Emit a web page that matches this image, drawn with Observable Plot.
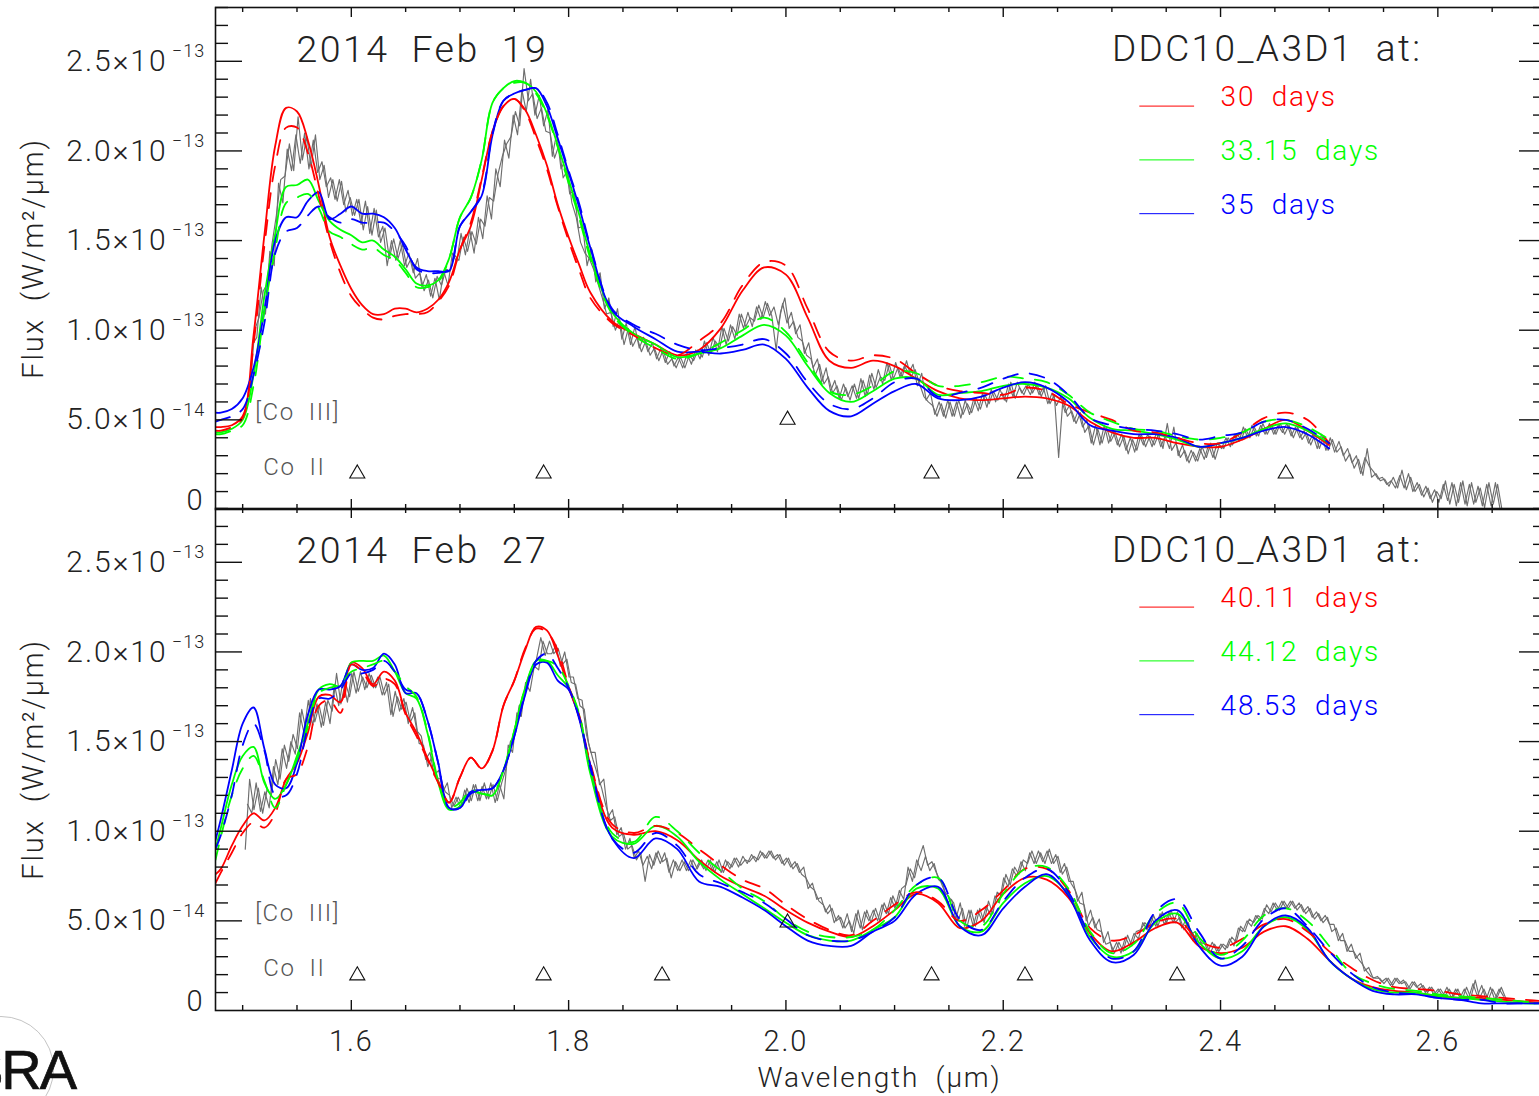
<!DOCTYPE html>
<html><head><meta charset="utf-8">
<script src="https://cdn.jsdelivr.net/npm/d3@7"></script>
<script src="https://cdn.jsdelivr.net/npm/@observablehq/plot@0.6"></script>
<style>
html,body{margin:0;padding:0;background:#fff;overflow:hidden;width:1539px;height:1096px}
#page{position:relative;width:1539px;height:1096px;overflow:hidden}
#page svg{position:absolute;left:0;overflow:visible;background:transparent;max-width:none!important}
#page svg text{letter-spacing:.065em;word-spacing:.28em}
#logo{position:absolute;left:-34px;top:1038px;font:400 56px/64px "Liberation Sans";letter-spacing:-2px;color:#111;-webkit-text-stroke:.7px #111}
#ring{position:absolute;left:-52px;top:1016px;width:104px;height:104px;border:1.5px solid #c4c4c4;border-radius:50%}
</style></head><body><div id="page"><div id="ring"></div><div id="logo">SRA</div></div>
<script>
// wavelengths of the model knots (micron)
const waveA=[1.475,1.48,1.49,1.50,1.51,1.52,1.53,1.54,1.55,1.56,1.57,1.58,1.59,1.60,1.61,1.62,1.63,1.64,1.65,1.66,1.67,1.68,1.69,1.70,1.71,1.72,1.73,1.74,1.75,1.76,1.77,1.78,1.79,1.80,1.81,1.82,1.84,1.86,1.88,1.90,1.92,1.94,1.96,1.98,2.00,2.02,2.04,2.06,2.08,2.10,2.12,2.14,2.16,2.18,2.20,2.22,2.24,2.26,2.28,2.30,2.32,2.34,2.36,2.38,2.40,2.42,2.44,2.46,2.48,2.50];
const waveB=[...waveA,2.52,2.54,2.56,2.58,2.60,2.62,2.64,2.66,2.68,2.70];
// all fluxes in 1e-14 W/m2/um
const feb19RedSolid=[4.6,4.6,4.7,5.2,9.7,15.3,20.3,22.4,22.2,20.6,18.1,15.2,13.6,12.3,11.4,10.9,10.9,11.2,11.2,11.0,11.2,11.7,12.7,14.5,15.8,18.4,21.1,22.5,22.9,22.3,20.9,19.2,17.0,15.2,13.6,12.1,10.5,9.8,9.2,8.6,8.9,10.1,12.2,13.5,13.1,10.7,8.3,7.9,8.3,8.0,7.3,6.6,6.2,6.1,6.2,6.3,6.2,5.8,4.9,4.3,4.0,4.0,3.7,3.5,3.5,3.9,4.5,5.0,4.4,3.6];
const feb19RedDash=[4.4,4.4,4.6,5.1,9.2,14.7,19.2,21.3,21.3,19.9,17.5,15.0,13.2,11.9,11.2,10.7,10.6,10.8,10.9,10.9,11.0,11.6,12.5,14.5,16.0,18.5,21.1,22.5,22.9,22.2,20.7,19.0,16.9,15.0,13.3,11.8,10.4,9.7,9.0,8.6,9.4,10.4,12.5,13.8,13.6,11.2,8.8,8.3,8.6,8.4,7.6,6.9,6.6,6.5,6.4,6.8,6.6,5.9,5.4,5.0,4.4,4.3,4.0,3.7,3.7,4.3,5.1,5.4,5.0,3.7];
const feb19GreenSolid=[4.3,4.3,4.5,5.0,7.5,11.9,15.4,18.0,18.1,18.4,17.2,16.1,15.6,15.3,14.9,15.0,14.5,14.1,13.4,12.6,12.5,12.8,14.0,16.3,17.4,19.5,22.7,23.5,23.9,23.8,23.3,22.1,20.3,18.4,16.4,14.2,11.0,9.8,9.2,8.5,8.7,9.0,9.7,10.3,9.7,8.0,6.5,6.0,6.6,7.3,7.3,6.4,6.5,6.6,6.9,7.0,6.8,6.2,5.1,4.5,4.4,4.2,3.9,3.5,3.7,4.0,4.5,4.8,4.4,3.7];
const feb19GreenDash=[4.2,4.2,4.4,4.7,6.9,11.1,14.5,17.1,17.4,17.6,16.8,15.5,15.2,14.8,14.5,14.6,14.2,13.9,13.2,12.4,12.4,12.7,14.0,16.3,17.4,19.5,22.7,23.5,23.8,23.8,23.2,22.0,20.2,18.2,16.2,14.0,10.9,9.7,9.0,8.4,8.7,9.3,10.0,10.7,9.9,8.2,6.6,6.4,6.9,7.7,7.6,6.9,6.9,7.1,7.4,7.3,7.1,6.4,5.4,4.9,4.5,4.4,4.1,3.9,4.0,4.3,4.9,5.0,4.6,3.9];
const feb19BlueSolid=[5.4,5.4,5.6,6.2,7.9,11.1,15.0,16.3,16.3,17.2,17.7,16.2,16.5,16.9,16.5,16.5,16.3,15.7,14.5,13.5,13.3,13.3,13.3,15.8,16.6,17.5,20.9,22.8,23.2,23.4,23.5,22.5,20.7,18.8,16.8,14.6,11.1,10.2,9.5,8.8,8.8,8.7,8.9,9.2,8.4,6.8,5.5,5.2,5.9,6.6,7.0,6.2,6.1,6.3,6.8,7.1,6.8,6.0,4.7,4.4,4.2,4.2,4.0,3.5,3.7,4.0,4.4,4.6,4.2,3.4];
const feb19BlueDash=[4.9,5.0,5.2,5.6,7.5,10.4,14.3,15.5,15.7,16.4,16.9,16.3,16.0,16.2,16.0,16.0,16.0,15.5,14.7,13.4,13.2,13.2,13.4,15.8,16.6,17.6,21.0,22.8,23.2,23.4,23.5,22.7,20.9,18.9,17.0,14.7,11.2,10.3,9.8,9.2,8.9,9.0,9.2,9.5,8.7,7.1,5.9,5.6,6.2,7.1,7.3,6.3,6.5,6.8,7.3,7.6,7.3,6.4,5.1,4.7,4.5,4.4,4.2,3.9,4.1,4.3,4.9,5.0,4.5,3.7];
const feb27RedSolid=[7.6,7.9,9.2,10.3,11.0,10.6,11.3,12.9,13.8,15.5,17.5,17.6,17.2,19.4,19.1,18.2,18.9,18.4,16.6,15.5,14.1,12.8,11.6,13.0,14.1,13.5,14.5,17.0,18.4,20.1,21.4,21.2,19.8,18.0,16.3,13.7,10.2,9.8,10.0,9.5,8.4,7.5,6.9,6.4,5.6,4.9,4.4,4.1,4.7,5.6,6.5,6.0,4.6,5.0,6.5,7.4,7.3,6.3,4.3,3.3,3.8,4.6,4.9,3.6,3.2,3.5,4.4,4.7,4.0,2.8,1.8,1.3,1.1,1.0,0.8,0.7,0.7,0.6,0.5,0.4];
const feb27RedDash=[7.1,7.7,8.8,9.9,10.5,10.2,11.0,12.9,13.2,14.7,17.0,17.3,16.6,19.3,18.9,18.1,18.5,18.2,16.5,15.3,14.0,12.7,11.6,13.0,14.1,13.5,14.5,17.0,18.4,20.2,21.3,21.1,20.1,18.1,16.4,13.8,10.4,9.9,10.3,9.9,9.0,8.1,7.3,6.8,5.9,5.1,4.5,4.2,5.0,5.9,6.6,6.1,5.0,5.6,6.7,7.9,7.9,6.7,4.6,3.9,4.2,4.9,5.1,3.9,3.5,4.0,4.8,5.1,4.4,3.3,2.4,1.7,1.3,1.2,1.1,0.9,0.8,0.7,0.6,0.5];
const feb27GreenSolid=[9.0,10.2,12.6,14.2,14.7,12.7,11.8,12.6,14.2,16.0,17.9,18.2,18.1,19.4,19.5,19.5,19.8,18.9,17.7,17.4,15.5,12.7,11.2,11.4,12.2,12.1,12.0,13.4,15.6,18.0,19.5,19.5,18.7,18.0,16.4,13.2,9.7,9.3,10.3,9.7,8.3,7.3,6.5,5.7,4.9,4.2,3.9,3.9,4.5,5.2,6.8,6.8,4.7,4.4,6.0,7.1,7.5,6.5,4.1,3.0,3.3,4.9,5.4,3.8,2.9,3.3,4.7,5.2,4.5,2.8,1.8,1.2,1.0,1.0,0.8,0.7,0.6,0.5,0.4,0.4];
const feb27GreenDash=[8.4,9.7,12.0,13.5,14.2,12.8,11.3,12.6,14.0,15.8,17.7,18.0,18.2,18.9,19.1,19.3,19.5,18.9,18.1,17.5,15.6,12.8,11.3,11.6,12.3,12.1,12.1,13.4,15.6,18.0,19.4,19.5,19.2,18.1,16.5,13.4,9.9,9.4,10.8,10.0,8.8,7.8,6.8,6.1,5.1,4.4,4.1,4.1,4.5,5.6,7.0,7.4,5.0,4.7,6.5,7.9,8.0,6.8,4.4,3.2,3.7,5.4,6.0,4.1,3.1,3.9,5.3,5.7,5.0,3.6,2.1,1.5,1.2,1.1,0.9,0.8,0.7,0.6,0.5,0.4];
const feb27BlueSolid=[9.5,10.7,13.4,16.0,16.9,14.6,12.6,12.4,13.8,16.5,17.9,17.9,18.1,19.3,19.0,19.1,19.9,19.3,17.7,17.7,16.2,13.8,11.3,11.3,12.2,12.3,12.4,13.4,15.3,17.6,19.3,19.4,18.4,17.9,16.2,13.5,9.6,8.5,9.6,9.0,7.2,6.9,6.3,5.6,4.7,3.9,3.6,3.6,4.4,5.0,6.5,6.9,4.7,4.2,5.7,6.9,7.6,6.4,3.9,2.7,3.1,5.0,5.6,3.6,2.5,3.0,4.7,5.3,4.6,2.8,1.8,1.1,0.9,0.9,0.7,0.6,0.4,0.4,0.4,0.4];
const feb27BlueDash=[9.0,9.8,12.0,14.8,16.0,14.5,12.0,12.0,13.2,15.8,17.4,17.4,17.9,18.8,18.8,19.0,19.5,18.9,17.9,17.7,16.2,13.8,11.3,11.3,12.1,12.3,12.4,13.4,15.3,17.7,19.5,19.9,19.1,18.0,16.3,13.7,9.6,8.8,9.9,9.2,7.6,7.1,6.6,6.0,5.1,4.2,3.9,3.9,4.4,5.2,7.0,7.4,5.1,4.5,6.1,7.4,7.9,6.6,4.2,2.9,3.3,5.5,6.2,4.4,2.9,3.6,5.1,5.7,4.7,3.3,2.1,1.3,1.0,0.9,0.7,0.6,0.6,0.4,0.4,0.4];
// observed spectra, read every 0.004 micron, plus readings halfway between them
const obsStart19=1.507, obsStart27=1.5024, obsStep=0.004;
const obsFeb19=[6.8,10.0,10.7,12.2,12.6,14.8,16.4,18.4,18.6,20.4,18.9,21.9,19.5,20.8,19.1,20.9,18.4,19.2,17.4,18.4,17.2,18.3,16.6,17.4,16.4,17.3,15.6,16.9,15.3,16.7,14.9,15.7,14.0,15.1,14.0,14.8,13.5,14.0,12.9,13.2,12.2,12.8,11.8,13.0,12.5,13.4,13.3,14.2,13.9,15.2,14.4,15.5,14.8,16.2,15.8,17.4,17.2,18.7,19.7,20.4,20.8,22.2,21.4,24.6,22.8,23.2,21.8,22.4,21.1,21.0,19.6,20.3,18.5,18.9,17.1,16.3,14.9,14.3,14.0,13.4,12.6,11.8,10.9,11.0,10.0,10.6,9.2,10.1,9.1,9.6,8.8,9.4,8.6,9.0,8.3,8.9,8.1,8.4,7.9,8.5,7.9,8.6,8.3,8.9,8.5,9.3,8.7,9.4,9.0,10.1,9.4,10.2,9.7,10.9,10.2,10.7,10.5,11.4,10.7,11.5,10.8,8.9,11.0,11.8,10.1,10.5,9.6,9.4,8.6,8.4,7.5,8.1,7.0,7.4,6.5,6.9,6.1,6.8,6.1,7.0,6.2,7.2,6.4,7.6,6.8,7.4,7.2,8.1,7.3,7.9,7.4,8.3,7.4,7.8,7.0,6.3,6.0,5.8,5.2,5.9,5.1,6.0,5.2,6.1,5.3,5.9,5.4,6.2,5.6,6.4,5.9,6.6,6.1,6.5,6.0,7.1,6.2,6.8,6.4,7.0,6.5,7.0,6.3,6.9,5.9,6.4,2.9,6.2,5.2,5.5,4.8,5.4,4.3,4.7,3.6,4.5,3.7,4.6,3.8,4.3,3.5,4.1,3.1,3.9,3.3,4.2,3.5,4.1,3.6,4.2,3.4,4.8,3.3,3.7,2.9,3.3,2.6,3.2,2.7,3.5,2.9,3.7,2.8,3.6,3.4,4.0,3.6,4.2,3.9,4.5,4.0,4.6,4.1,4.8,4.2,4.7,4.2,4.8,4.2,4.7,4.0,4.6,3.9,4.3,3.6,4.2,3.4,4.1,3.3,3.9,3.2,3.5,2.7,3.1,2.3,2.8,1.9,3.4,1.8,2.0,1.6,1.7,1.3,1.8,1.2,2.2,1.1,1.8,1.0,1.4,0.7,1.2,0.4,1.0,0.6,1.6,0.3,1.4,0.4,1.6,0.2,1.5,0.4,1.2,0.1,1.5,0.3,1.4,0.0];
const obsFeb19Mid=[9.2,9.6,12.4,10.9,14.4,13.6,18.2,17.1,20.1,18.9,20.9,19.3,21.0,19.0,20.6,18.8,19.4,18.0,18.5,17.3,18.4,17.0,17.8,16.4,17.3,15.9,17.2,15.4,16.8,15.2,15.8,13.6,15.0,13.9,15.0,13.6,14.3,13.2,14.0,12.4,13.1,11.9,12.9,11.7,13.3,12.5,14.3,13.8,15.4,14.2,15.6,14.3,16.3,15.1,17.5,16.2,19.0,18.0,20.6,19.6,22.0,20.9,23.4,22.2,24.0,22.0,23.1,21.4,22.3,19.7,21.0,19.0,19.5,17.6,17.8,15.7,15.8,13.6,14.6,12.7,13.2,11.2,11.8,10.2,11.2,9.5,10.4,9.2,10.2,9.0,9.6,8.8,9.3,8.4,9.0,8.2,8.8,8.0,8.5,7.9,8.7,8.1,8.9,8.4,9.4,8.6,9.6,8.8,10.2,9.2,10.3,9.5,10.9,10.1,11.0,10.2,11.3,10.6,11.6,10.8,11.3,10.3,11.5,10.4,11.0,9.8,10.3,8.7,9.3,7.9,8.4,7.1,7.9,6.6,7.2,6.2,7.0,6.3,6.9,6.2,7.3,6.3,7.5,6.7,7.8,7.0,8.2,7.2,8.2,7.4,8.0,7.6,8.1,6.9,7.6,6.1,6.5,5.3,6.0,5.2,6.1,5.2,6.0,5.1,6.1,5.3,6.2,5.5,6.5,5.7,6.7,6.0,6.7,6.1,7.0,6.3,7.1,6.5,6.9,6.4,7.1,6.4,6.8,5.9,6.5,5.8,6.3,5.4,5.8,4.9,5.5,4.6,5.0,3.7,4.7,3.6,4.7,3.7,4.4,3.6,4.2,3.3,4.0,3.2,4.2,3.6,4.2,3.5,4.3,3.5,4.1,3.4,4.6,3.0,3.6,2.7,3.3,2.7,3.4,2.8,3.6,2.9,3.7,3.4,4.0,3.5,4.2,3.8,4.6,4.0,4.7,4.1,4.7,4.2,4.8,4.2,4.7,4.3,4.8,4.1,4.6,4.0,4.4,3.7,4.2,3.4,4.2,3.3,4.0,3.2,3.8,3.0,3.4,2.6,3.0,2.0,2.9,2.4,2.1,1.7,1.8,1.4,1.6,1.2,1.9,1.2,2.0,1.0,1.5,0.8,1.3,0.6,1.1,0.4,1.4,0.5,1.5,0.2,1.5,0.3,1.4,0.3,1.3,0.2,1.4,0.2,1.5,0.1];
const obsFeb27=[9.0,12.9,11.2,12.4,11.0,12.3,12.0,14.0,12.9,14.8,13.9,15.4,14.6,16.8,15.6,17.4,16.1,17.0,15.9,17.3,16.7,18.8,17.1,18.3,17.5,18.9,17.8,18.6,18.0,18.7,18.0,18.6,17.6,18.2,16.4,17.5,16.8,17.2,16.1,16.6,14.9,14.8,13.6,14.2,13.0,12.9,12.2,12.0,11.4,11.9,11.4,12.4,11.7,12.6,11.7,12.7,11.8,12.6,11.7,12.7,13.5,15.0,15.4,17.0,17.2,18.4,18.9,19.6,20.8,19.8,20.6,19.9,20.2,19.3,19.6,18.3,18.2,17.0,16.8,14.9,14.0,13.2,12.4,11.4,10.6,10.8,9.7,9.9,9.0,9.2,8.4,8.8,7.2,8.7,8.1,8.9,8.3,8.5,7.4,8.3,7.8,8.3,7.8,8.4,7.9,8.4,7.8,8.4,7.7,8.4,7.7,8.3,8.0,8.5,8.1,8.4,8.3,8.6,8.4,8.8,8.5,8.9,8.4,8.7,8.1,8.5,7.9,8.2,7.6,7.4,6.9,6.7,6.1,5.9,5.4,5.7,5.0,5.2,4.6,5.0,4.3,5.6,4.5,5.6,4.9,5.7,5.0,6.0,5.4,6.4,5.8,6.8,7.0,7.9,7.4,8.5,9.2,8.1,8.3,7.7,7.2,6.6,6.3,6.0,5.0,5.7,4.6,5.6,4.7,5.7,4.9,6.1,5.4,6.6,6.4,7.6,7.0,8.0,7.6,8.4,8.2,8.9,8.2,8.8,8.2,9.0,8.2,8.6,7.6,8.0,7.1,6.7,6.0,5.9,4.7,5.2,4.5,4.4,3.7,3.8,3.2,3.8,3.3,4.2,3.6,4.4,4.5,4.9,4.6,5.3,4.7,5.5,4.9,5.6,4.9,5.2,4.5,4.9,3.9,4.3,3.7,3.8,3.2,3.7,3.3,3.7,3.5,4.1,3.8,4.7,4.4,5.1,4.9,5.3,5.1,5.9,5.5,6.0,5.6,6.1,5.7,6.1,5.6,5.9,5.4,5.7,5.1,5.4,4.9,5.2,4.4,4.6,3.9,3.9,3.3,3.3,2.9,2.6,2.2,1.9,1.8,1.8,1.5,1.8,1.4,1.8,1.5,1.6,1.2,1.6,1.2,1.4,1.0,1.3,0.9,1.2,0.8,1.2,0.8,1.2,0.6,1.3,0.7,1.7,0.7,1.2,0.6,1.2,0.7,1.3,0.7];
const obsFeb27Mid=[11.5,11.0,12.7,11.1,12.2,11.3,13.6,12.6,14.6,13.5,15.0,14.3,16.6,15.5,17.3,15.9,17.1,15.8,17.2,16.0,18.2,17.0,18.4,17.2,18.8,17.7,18.9,17.9,18.8,18.0,18.6,17.6,18.3,16.5,17.8,16.7,17.4,16.0,16.9,15.6,15.3,14.0,14.4,13.1,13.4,12.2,12.7,11.3,11.9,11.3,12.3,11.6,12.6,11.7,12.5,11.8,12.7,11.6,12.6,11.8,14.8,14.4,16.6,16.4,18.3,17.8,19.2,19.0,20.6,19.9,19.9,20.4,19.2,20.0,18.6,18.6,17.4,17.3,15.4,14.4,14.4,12.6,12.9,10.8,11.2,9.8,10.2,9.0,9.6,8.5,8.9,8.1,8.6,7.9,8.8,8.2,8.8,7.7,8.4,7.8,8.4,7.8,8.4,7.8,8.3,7.9,8.4,7.8,8.3,7.7,8.4,7.9,8.5,8.0,8.6,8.2,8.7,8.3,8.9,8.5,8.9,8.5,8.7,8.2,8.5,8.0,8.3,7.7,8.0,6.8,7.1,6.2,6.3,5.5,5.9,4.9,5.3,4.6,5.4,4.4,5.4,4.6,5.5,5.0,5.6,5.0,5.9,5.4,6.3,5.7,6.7,6.2,8.0,7.2,8.4,7.8,8.6,7.8,8.2,7.3,7.1,6.0,6.2,5.1,6.0,4.7,5.6,4.7,5.6,5.0,5.8,5.3,6.4,6.0,7.4,6.9,7.9,7.5,8.3,7.8,8.8,8.2,8.9,8.3,8.9,8.2,8.7,7.7,8.2,7.2,7.2,6.1,6.6,5.0,5.6,4.6,5.1,3.8,4.4,3.3,3.8,3.2,4.1,3.6,4.3,4.0,4.9,4.5,5.2,4.7,5.4,4.8,5.5,4.9,5.5,4.6,5.1,4.2,4.4,3.7,3.9,3.3,3.8,3.3,3.7,3.4,4.0,3.6,4.6,4.4,5.0,4.7,5.3,5.0,5.7,5.4,6.0,5.6,6.1,5.7,6.1,5.7,6.0,5.5,5.8,5.2,5.5,5.0,5.3,4.8,4.8,3.9,4.3,3.3,3.7,2.9,3.2,2.2,2.4,1.8,1.9,1.6,1.8,1.4,1.8,1.5,1.7,1.2,1.6,1.3,1.5,1.0,1.3,0.9,1.2,0.8,1.3,0.7,1.2,0.7,1.2,0.7,1.5,0.8,1.4,0.6,1.3,0.6,1.2,0.8];
// line identification markers
const coIII19=[[2.0015,5.0]], coIII27=[[2.0015,4.9]];
const coII19=[1.6055,1.777,2.134,2.22,2.46], coII27=[1.6055,1.777,1.886,2.134,2.22,2.36,2.46];
// axes
const xMajor=[1.6,1.8,2.0,2.2,2.4,2.6];
const xMinor=[1.5,1.55,1.65,1.7,1.75,1.85,1.9,1.95,2.05,2.1,2.15,2.25,2.3,2.35,2.45,2.5,2.55,2.65,2.7];
const yMajor=[5,10,15,20,25];
const yMinor=[1,2,3,4,6,7,8,9,11,12,13,14,16,17,18,19,21,22,23,24,26,27,28];
const yLabels={5:"5.0×10",10:"1.0×10",15:"1.5×10",20:"2.0×10",25:"2.5×10"};
const yExp={5:"−14",10:"−13",15:"−13",20:"−13",25:"−13"};
const RED="#ff0000",GREEN="#00ff00",BLUE="#0000ff",INK="#222";
const W=1546, PLOTH=502;

function series(xs,ys){return ys.map((y,i)=>({x:xs[i],y}));}
function obsSeries(start,ys){return ys.map((y,i)=>({x:start+i*obsStep,y}));}

function panel(o){
  const line=(ys,c,dash)=>Plot.line(series(o.wave,ys),{x:"x",y:"y",stroke:c,strokeWidth:1.8,curve:"catmull-rom",clip:"frame",strokeDasharray:dash?"15,12":undefined});
  const tx=(str,x,y,size,fill)=>Plot.text([str],{x:()=>x,y:()=>y,text:d=>d,textAnchor:"start",fontSize:size,fill});
  const ln=(y,c)=>Plot.line([{x:2.3256,y},{x:2.3753,y}],{x:"x",y:"y",stroke:c,strokeWidth:1});
  const ins=PLOTH;
  const marks=[
    Plot.line(obsSeries(o.obsStart,o.obs),{x:"x",y:"y",stroke:"#6e6e6e",strokeWidth:1.15,clip:"frame"}),
    Plot.line(obsSeries(o.obsStart+obsStep/2,o.obsMid),{x:"x",y:"y",stroke:"#6e6e6e",strokeWidth:1.15,clip:"frame"}),
    line(o.r,RED),line(o.g,GREEN),line(o.b,BLUE),
    line(o.rd,RED,1),line(o.gd,GREEN,1),line(o.bd,BLUE,1),
    Plot.dot(o.coIII,{x:d=>d[0],y:d=>d[1],symbol:"triangle",r:5.6,stroke:"#111",fill:"none",strokeWidth:1.1}),
    Plot.dot(o.coII,{x:d=>d,y:()=>o.coIIy,symbol:"triangle",r:5.6,stroke:"#111",fill:"none",strokeWidth:1.1}),
    Plot.frame({stroke:"#111",strokeWidth:1.6}),
    Plot.tickX(xMajor,{x:d=>d,insetTop:ins-10,stroke:"#111",strokeWidth:1.4}),
    Plot.tickX(xMajor,{x:d=>d,insetBottom:ins-10,stroke:"#111",strokeWidth:1.4}),
    Plot.tickX(xMinor,{x:d=>d,insetTop:ins-5,stroke:"#111",strokeWidth:1.4}),
    Plot.tickX(xMinor,{x:d=>d,insetBottom:ins-5,stroke:"#111",strokeWidth:1.4}),
    Plot.tickY(yMajor,{y:d=>d,insetRight:W-215-27,stroke:"#111",strokeWidth:1.4}),
    Plot.tickY(yMajor,{y:d=>d,insetLeft:W-215-27,stroke:"#111",strokeWidth:1.4}),
    Plot.tickY(yMinor,{y:d=>d,insetRight:W-215-13,stroke:"#111",strokeWidth:1.4}),
    Plot.tickY(yMinor,{y:d=>d,insetLeft:W-215-13,stroke:"#111",strokeWidth:1.4}),
    Plot.axisY({ticks:yMajor,tickSize:0,tickPadding:48,tickFormat:d=>yLabels[d],fontSize:30,label:null,fill:INK}),
    Plot.axisY({ticks:yMajor,tickSize:0,tickPadding:10,tickFormat:d=>yExp[d],fontSize:18,dy:-10,label:null,fill:INK}),
    Plot.axisY({ticks:[0],tickSize:0,tickPadding:11,tickFormat:()=>"0",fontSize:29,dy:-9,label:null,fill:INK}),
    Plot.text(["Flux (W/m²/μm)"],{frameAnchor:"left",dx:-182,rotate:-90,textAnchor:"middle",fontSize:29,fill:INK}),
    tx(o.date,1.5495,25.65,37.5,INK),
    tx("DDC10_A3D1 at:",2.300,25.65,37,INK),
    ln(22.5,RED),ln(19.5,GREEN),ln(16.5,BLUE),
    tx(o.names[0],2.4,23,28,RED),tx(o.names[1],2.4,20,28,GREEN),tx(o.names[2],2.4,17,28,BLUE),
    tx("[Co III]",1.5116,5.4,24,"#555"),tx("Co II",1.519,2.35,24,"#555")
  ];
  if(o.bottomAxis){
    marks.push(
      Plot.axisX({ticks:xMajor,tickSize:0,tickPadding:20,tickFormat:".1f",fontSize:29,label:null,fill:INK}),
      Plot.text(["Wavelength (μm)"],{frameAnchor:"bottom",dy:76,textAnchor:"middle",dx:-1.5,fontSize:28,fill:INK})
    );
  }
  return Plot.plot({
    width:W,height:o.h,marginLeft:215,marginRight:0,marginTop:o.mt,marginBottom:o.mb,
    x:{domain:[1.475,2.70],axis:null},
    y:{domain:[0,28],axis:null},
    style:{fontFamily:"Roboto",fontWeight:300,background:"transparent",overflow:"visible",maxWidth:"none",width:W+"px",height:o.h+"px"},
    marks
  });
}
const page=document.getElementById("page");
const p1=panel({date:"2014 Feb 19",names:["30 days","33.15 days","35 days"],wave:waveA,obs:obsFeb19,obsMid:obsFeb19Mid,obsStart:obsStart19,
  r:feb19RedSolid,rd:feb19RedDash,g:feb19GreenSolid,gd:feb19GreenDash,b:feb19BlueSolid,bd:feb19BlueDash,
  coIII:coIII19,coII:coII19,coIIy:2.0,h:510,mt:7,mb:1,bottomAxis:false});
p1.style.top="0px";page.appendChild(p1);
const p2=panel({date:"2014 Feb 27",names:["40.11 days","44.12 days","48.53 days"],wave:waveB,obs:obsFeb27,obsMid:obsFeb27Mid,obsStart:obsStart27,
  r:feb27RedSolid,rd:feb27RedDash,g:feb27GreenSolid,gd:feb27GreenDash,b:feb27BlueSolid,bd:feb27BlueDash,
  coIII:coIII27,coII:coII27,coIIy:1.95,h:587,mt:0,mb:85,bottomAxis:true});
p2.style.top="508px";page.appendChild(p2);
</script></body></html>
